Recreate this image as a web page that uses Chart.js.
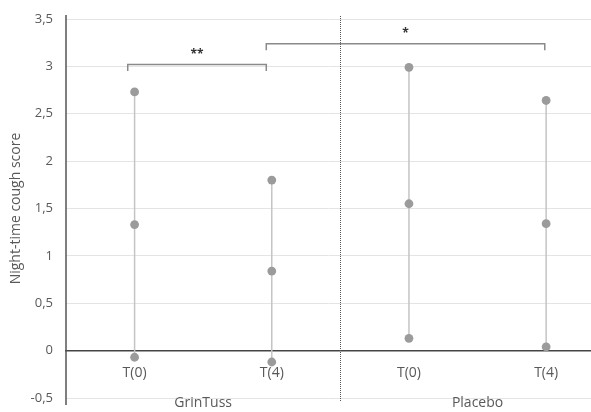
<!DOCTYPE html>
<html>
<head>
<meta charset="utf-8">
<script src="https://cdn.jsdelivr.net/npm/chart.js@4/dist/chart.umd.min.js"></script>
<style>
  html, body { margin: 0; padding: 0; background: #fff; }
  #wrap { width: 591px; height: 412px; position: relative; }
</style>
</head>
<body>
<div id="wrap"><canvas id="c"></canvas></div>
<script>
// ---- data ----
const categories = ['T(0)', 'T(4)', 'T(0)', 'T(4)'];
const groups = ['GrinTuss', 'Placebo'];
const maxValues  = [2.73, 1.80, 2.99, 2.64];
const meanValues = [1.33, 0.84, 1.55, 1.34];
const minValues  = [-0.07, -0.12, 0.13, 0.04];
const yTicks = [-0.5, 0, 0.5, 1, 1.5, 2, 2.5, 3, 3.5];
// significance brackets (category-axis units / score units)
const bracketFrom  = [-0.05, 0.96];
const bracketTo    = [0.96, 2.99];
const bracketLevel = [3.02, 3.24];
const bracketDrop  = [0.07, 0.07];
const bracketMarks = ['**', '*'];

const FONT = "'Open Sans', 'Noto Sans', sans-serif";
const TXT = '#595959';

const datasets = [];
categories.forEach((c, i) => {
  datasets.push({
    label: c,
    data: [{x: i, y: maxValues[i]}, {x: i, y: meanValues[i]}, {x: i, y: minValues[i]}],
    showLine: true,
    borderColor: '#c4c4c4',
    borderWidth: 1.5,
    pointRadius: 4.4,
    pointBackgroundColor: '#9b9b9b',
    pointBorderColor: '#9b9b9b',
    pointBorderWidth: 0,
    order: 1
  });
});
bracketFrom.forEach((f, k) => {
  const t = bracketTo[k], lv = bracketLevel[k], d = bracketDrop[k];
  datasets.push({
    label: 'bracket' + k,
    data: [{x: f, y: lv - d}, {x: f, y: lv}, {x: t, y: lv}, {x: t, y: lv - d}],
    showLine: true,
    borderColor: '#8a8a8a',
    borderWidth: 1.5,
    pointRadius: 0,
    order: 2
  });
});

const noPad = s => { s.paddingTop = 0; s.paddingBottom = 0; s.paddingLeft = 0; s.paddingRight = 0; };

const overlay = {
  id: 'overlay',
  afterDatasetsDraw(chart) {
    const ctx = chart.ctx, xs = chart.scales.x, ys = chart.scales.y;
    const area = chart.chartArea;
    ctx.save();
    // y axis line slightly extended beyond the plot, as in the original
    ctx.strokeStyle = '#555';
    ctx.lineWidth = 1.5;
    ctx.beginPath();
    ctx.moveTo(area.left, area.top - 4);
    ctx.lineTo(area.left, area.bottom + 7);
    ctx.stroke();
    // group divider (dotted)
    const dx = Math.round(xs.getPixelForValue(1.5)) + 0.5;
    ctx.lineWidth = 1;
    ctx.setLineDash([1, 1]);
    ctx.beginPath();
    ctx.moveTo(dx, area.top - 3);
    ctx.lineTo(dx, area.bottom + 4);
    ctx.stroke();
    ctx.setLineDash([]);
    // significance marks
    ctx.fillStyle = '#333';
    ctx.font = 'bold 12px ' + FONT;
    ctx.textAlign = 'center';
    ctx.textBaseline = 'middle';
    bracketMarks.forEach((m, k) => {
      const mx = xs.getPixelForValue((bracketFrom[k] + bracketTo[k]) / 2);
      const my = ys.getPixelForValue(bracketLevel[k]) - 10;
      ctx.fillText(m, mx, my);
    });
    // group labels under the category labels
    ctx.fillStyle = TXT;
    ctx.font = '14px ' + FONT;
    ctx.textBaseline = 'alphabetic';
    groups.forEach((g, k) => {
      ctx.fillText(g, xs.getPixelForValue(0.5 + 2 * k), area.bottom + 9);
    });
    ctx.restore();
  }
};

new Chart(document.getElementById('c'), {
  type: 'scatter',
  data: { datasets },
  options: {
    responsive: true,
    maintainAspectRatio: false,
    animation: false,
    layout: { autoPadding: false, padding: { top: 19, right: 0, bottom: 14, left: 0 } },
    plugins: { legend: { display: false }, tooltip: { enabled: false } },
    scales: {
      x: {
        type: 'linear',
        position: { y: 0 },
        min: -0.5,
        max: 3.327,
        afterBuildTicks: s => { s.ticks = categories.map((c, i) => ({ value: i })); },
        afterFit: s => { s.height = 0; noPad(s); },
        ticks: {
          autoSkip: false,
          maxRotation: 0,
          padding: 14,
          color: TXT,
          font: { family: FONT, size: 14 },
          callback: v => categories[v]
        },
        grid: { display: false, drawTicks: false },
        border: { display: true, color: '#444', width: 1.5 }
      },
      y: {
        type: 'linear',
        min: -0.5,
        max: 3.5,
        afterBuildTicks: s => { s.ticks = yTicks.map(v => ({ value: v })); },
        afterFit: s => { s.width = 66; noPad(s); },
        ticks: {
          padding: 13,
          color: TXT,
          font: { family: FONT, size: 13 },
          callback: v => String(v).replace('.', ',')
        },
        grid: { color: '#e4e4e4', lineWidth: 1, drawTicks: false },
        border: { display: false },
        title: {
          display: true,
          text: 'Night-time cough score',
          color: TXT,
          font: { family: FONT, size: 14 },
          padding: { top: 8, bottom: 0 }
        }
      }
    }
  },
  plugins: [overlay]
});
</script>
</body>
</html>
